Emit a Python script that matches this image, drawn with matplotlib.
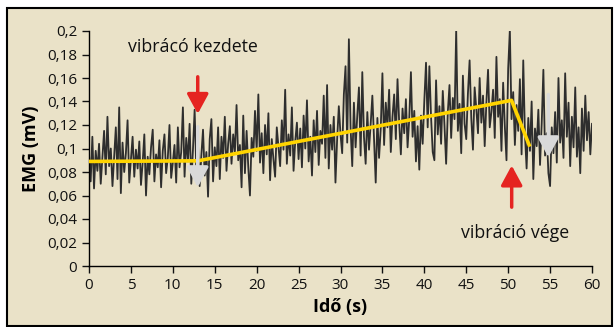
import numpy as np
import matplotlib.pyplot as plt
from matplotlib.patches import Rectangle

# EMG signal (mV x 1000), one value every 0.2 s from 0 to 60 s
emg_raw = [
    95, 72, 110, 66, 98, 81, 104, 70, 92, 115, 78, 127, 85, 100, 68, 93, 118, 74, 135, 62, 105, 80, 96, 124, 71,
    90, 110, 76, 99, 83, 106, 69, 88, 112, 60, 93, 78, 101, 116, 72, 95, 84, 107, 67, 98, 112, 79, 92, 120, 75,
    88, 103, 71, 118, 84, 97, 135, 76, 109, 89, 121, 70, 99, 133, 82, 104, 68, 94, 116, 77, 97, 59, 108, 125, 72,
    101, 85, 118, 74, 110, 92, 127, 81, 104, 119, 87, 112, 96, 137, 90, 103, 67, 128, 79, 115, 84, 60, 109, 93, 132,
    98, 146, 88, 113, 79, 120, 95, 130, 73, 108, 91, 76, 118, 102, 85, 124, 99, 150, 87, 112, 94, 135, 81, 106, 122,
    91, 117, 84, 128, 100, 141, 89, 110, 77, 124, 97, 132, 86, 115, 104, 145, 92, 154, 83, 120, 99, 127, 71, 108, 136,
    112, 96, 146, 170, 105, 193, 118, 85, 139, 101, 128, 152, 94, 165, 110, 87, 131, 99, 121, 145, 108, 71, 126, 92, 117,
    164, 103, 139, 118, 150, 97, 127, 146, 108, 159, 122, 95, 134, 113, 142, 101, 125, 165, 110, 132, 89, 119, 82, 128, 104,
    141, 173, 118, 170, 127, 97, 90, 158, 112, 136, 104, 149, 120, 87, 131, 154, 109, 143, 125, 201, 115, 138, 96, 162, 121,
    108, 147, 175, 126, 99, 152, 134, 113, 160, 122, 145, 102, 139, 167, 118, 131, 150, 109, 178, 127, 142, 98, 156, 119, 90,
    168, 201, 125, 148, 103, 137, 115, 159, 95, 175, 112, 83, 126, 98, 140, 74, 117, 102, 133, 86, 121, 167, 94, 113, 79,
    68, 118, 96, 131, 88, 160, 105, 124, 92, 164, 110, 139, 85, 127, 101, 152, 93, 118, 79, 134, 98, 145, 107, 131, 95, 121,
]
emg = np.array(emg_raw) / 1000.0
t = np.linspace(0, 60, len(emg))

# yellow trend line
trend_t = [0.2, 13.0, 50.4, 52.5]
trend_v = [0.089, 0.0895, 0.141, 0.103]

xticks = list(range(0, 61, 5))
yticks = [0, 0.02, 0.04, 0.06, 0.08, 0.1, 0.12, 0.14, 0.16, 0.18, 0.2]
ytick_labels = ['0', '0,02', '0,04', '0,06', '0,08', '0,1', '0,12', '0,14', '0,16', '0,18', '0,2']

bg = '#eae2c8'
plt.rcParams['font.family'] = ['Open Sans', 'DejaVu Sans']

fig = plt.figure(figsize=(6.16, 3.27), dpi=100)
fig.patch.set_facecolor('white')
fig.patches.append(Rectangle((6.5 / 616, 1 - 326 / 327), 605 / 616, 318 / 327,
                             transform=fig.transFigure, facecolor=bg,
                             edgecolor='black', linewidth=1.5, zorder=-5))

ax = fig.add_axes([89 / 616, 1 - 266 / 327, 503 / 616, 235 / 327])
ax.set_facecolor('none')
ax.plot(t, emg, color='#2e2e2e', linewidth=1.3, zorder=2)
ax.plot(trend_t, trend_v, color='#ffd400', linewidth=2.6, zorder=3)

# arrows: red = markers, grey = shadow arrows
head = '-|>,head_width=0.65,head_length=1.2'
ax.annotate('', xy=(12.97, 0.1271), xytext=(12.97, 0.1634),
            arrowprops=dict(arrowstyle=head, color='#e52421', lw=2.5), zorder=5)
ax.annotate('', xy=(12.97, 0.0647), xytext=(12.97, 0.1209),
            arrowprops=dict(arrowstyle=head, color='#d9d9d9', lw=2.5), zorder=4)
ax.annotate('', xy=(50.42, 0.0879), xytext=(50.42, 0.0477),
            arrowprops=dict(arrowstyle=head, color='#e52421', lw=2.5), zorder=5)
ax.annotate('', xy=(54.79, 0.0902), xytext=(54.79, 0.1483),
            arrowprops=dict(arrowstyle=head, color='#d9d9d9', lw=2.5), zorder=4)

ax.text(4.65, 0.186, 'vibrácó kezdete', fontsize=12.8, color='#111111', va='center', ha='left')
ax.text(44.4, 0.0285, 'vibráció vége', fontsize=12.8, color='#111111', va='center', ha='left')

ax.set_xlim(0, 60)
ax.set_ylim(0, 0.2)
ax.set_xticks(xticks)
ax.set_yticks(yticks)
ax.set_yticklabels(ytick_labels)
ax.tick_params(direction='out', length=5, width=1, labelsize=11, colors='#111111')
for s in ['top', 'right']:
    ax.spines[s].set_visible(False)
for s in ['left', 'bottom']:
    ax.spines[s].set_linewidth(1)

ax.set_xlabel('Idő (s)', fontsize=13, fontweight='bold', labelpad=4)
ax.set_ylabel('EMG (mV)', fontsize=13, fontweight='bold', labelpad=5)

fig.savefig('out.png', dpi=100, facecolor=fig.get_facecolor())
